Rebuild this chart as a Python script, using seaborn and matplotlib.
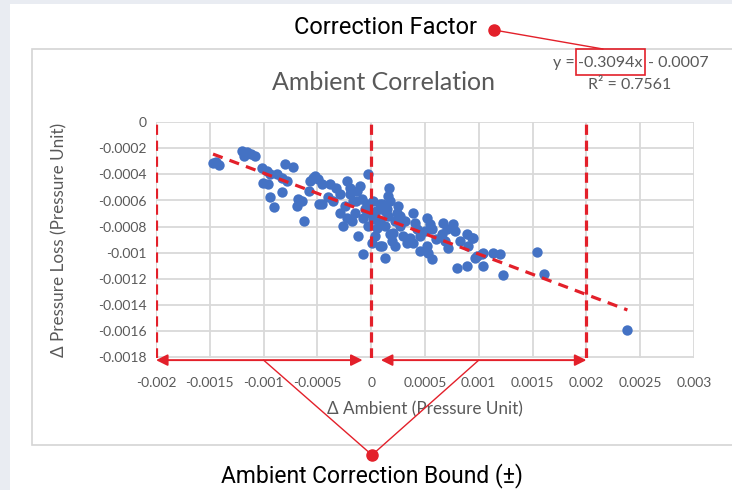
import numpy as np
import pandas as pd
import matplotlib
matplotlib.use("Agg")
import matplotlib.pyplot as plt
import seaborn as sns
from matplotlib.patches import Rectangle, ConnectionPatch

# ---------------- data ----------------
delta_ambient = [
    -0.00147, -0.001414, -0.001442, -0.0012, -0.001181, -0.001116, -0.001153, -0.001014, -0.000967, -0.00094,
    -0.000874, -0.000828, -0.001005, -0.000958, -0.0008, -0.000726, -0.000828, -0.00094, -0.000902, -0.000679,
    -0.000688, -0.000623, -0.000567, -0.000521, -0.000484, -0.00054, -0.000493, -0.000456, -0.000381, -0.000642,
    -0.000456, -0.000223, -0.000195, -0.000102, -0.000288, -0.000195, -0.000167, -0.000028, 0.000167, 0.000158,
    -0.000353, -0.000288, -0.000223, -0.000149, -0.000084, -0.000037, 0.000019, 0.000084, 0.000149, -0.000074,
    0.000019, 0.000084, 0.000056, -0.00026, -0.000121, 0.000177, 0.000195, 0.000009, 0.000084, -0.000074,
    0.00013, 0.000102, 0.00013, 0.000158, 0.000242, 0.00027, 0.000223, 0.00027, 0.000205, 0.000298,
    0.000335, 0.000391, 0.000409, 0.000428, 0.000363, 0.000391, 0.000102, 0.000521, 0.000549, 0.000567,
    0.000521, 0.00053, 0.000567, 0.00067, 0.000707, 0.00066, 0.000688, 0.000716, 0.000763, 0.000781,
    0.000893, 0.000949, 0.000902, 0.000986, 0.001042, 0.0008, 0.000893, 0.001042, 0.00094, 0.000967,
    0.001033, 0.001135, 0.0012, 0.001228, 0.001544, 0.001609, 0.002381, -0.000326, -0.000242, -0.00013,
    -0.000056, -0.000009, 0.000047, -0.000177, -0.000028, 0.00013, 0.000251, 0.000316, 0.000456, 0.000605,
    0.000828, 0.000502, 0.000177, -0.00014, 0.000037, 0.000223, 0.000456, -0.0004, -0.000577, -0.000781,
    -0.001079,
]
delta_pressure_loss = [
    -0.000313, -0.000328, -0.000305, -0.000221, -0.00026, -0.000244, -0.000229, -0.000351, -0.000374, -0.000397,
    -0.000397, -0.000427, -0.000466, -0.000473, -0.000321, -0.000344, -0.000534, -0.000573, -0.000649, -0.000588,
    -0.000641, -0.000756, -0.00045, -0.000412, -0.000626, -0.000427, -0.000435, -0.000473, -0.000473, -0.000603,
    -0.000626, -0.00045, -0.000504, -0.000489, -0.00055, -0.00055, -0.000603, -0.000397, -0.000504, -0.000565,
    -0.000603, -0.000695, -0.000733, -0.000695, -0.000588, -0.000626, -0.000603, -0.000626, -0.000664, -0.000733,
    -0.00074, -0.000756, -0.000809, -0.000794, -0.00087, -0.000855, -0.000908, -0.000924, -0.000947, -0.001008,
    -0.001038, -0.000626, -0.000679, -0.000718, -0.000695, -0.000718, -0.000756, -0.000794, -0.000847, -0.00087,
    -0.000924, -0.000695, -0.000771, -0.000817, -0.000886, -0.000924, -0.000947, -0.000733, -0.000779, -0.000817,
    -0.000947, -0.001, -0.001046, -0.000771, -0.000817, -0.000855, -0.000908, -0.000962, -0.000779, -0.000832,
    -0.000855, -0.000886, -0.000947, -0.001023, -0.001, -0.001115, -0.001099, -0.001099, -0.000886, -0.001038,
    -0.001008, -0.001, -0.001008, -0.001168, -0.000992, -0.00116, -0.001588, -0.000504, -0.000641, -0.000527,
    -0.000664, -0.000695, -0.000679, -0.000756, -0.000794, -0.000794, -0.000641, -0.000756, -0.00087, -0.000893,
    -0.000908, -0.000832, -0.000603, -0.000603, -0.00087, -0.000947, -0.000985, -0.000573, -0.000527, -0.00045,
    -0.00026,
]
slope = -0.3094
intercept = -0.0007
r_squared = 0.7561
bound = 0.002

x_ticks = [-0.002, -0.0015, -0.001, -0.0005, 0, 0.0005, 0.001, 0.0015, 0.002, 0.0025, 0.003]
x_tick_labels = ["-0.002", "-0.0015", "-0.001", "-0.0005", "0", "0.0005", "0.001",
                 "0.0015", "0.002", "0.0025", "0.003"]
y_ticks = [0, -0.0002, -0.0004, -0.0006, -0.0008, -0.001, -0.0012, -0.0014, -0.0016, -0.0018]
y_tick_labels = ["0", "-0.0002", "-0.0004", "-0.0006", "-0.0008", "-0.001", "-0.0012",
                 "-0.0014", "-0.0016", "-0.0018"]

title = "Ambient Correlation"
x_label = "Δ Ambient (Pressure Unit)"
y_label = "Δ Pressure Loss (Pressure Unit)"
top_note = "Correction Factor"
bottom_note = "Ambient Correction Bound (±)"

df = pd.DataFrame({"ambient": delta_ambient, "loss": delta_pressure_loss})

# ---------------- style ----------------
sns.set_theme(style="white")
plt.rcParams["font.family"] = ["Lato", "DejaVu Sans"]

RED = "#e3202a"
BLUE = "#4472c4"
GRAY_TXT = "#595959"
W, H = 732, 490

fig = plt.figure(figsize=(W / 100, H / 100), dpi=100)
fig.patch.set_facecolor("#e9ecf2")
fig.patches.append(Rectangle((10 / W, 0), 1, 1 - 4 / H, transform=fig.transFigure,
                             facecolor="white", edgecolor="none", zorder=-10))
fig.patches.append(Rectangle((32 / W, 1 - 445 / H), (760 - 32) / W, (445 - 49) / H,
                             transform=fig.transFigure, facecolor="white",
                             edgecolor="#d4d4d4", lw=1.2, zorder=-9))

ax = fig.add_axes([156 / W, 1 - 357.5 / H, (694 - 156) / W, (357.5 - 122) / H], zorder=2)
ax.set_facecolor("none")

sns.scatterplot(data=df, x="ambient", y="loss", ax=ax, color=BLUE, s=56,
                linewidth=0, zorder=3, legend=False)

xs = np.array([df["ambient"].min(), df["ambient"].max()])
ax.plot(xs, slope * xs + intercept, color=RED, lw=2.3, ls=(0, (3.2, 2.3)), zorder=4)

for xv in (-bound, 0, bound):
    ax.axvline(xv, color=RED, lw=2.3, ls=(0, (3.2, 1.8)), zorder=4)

ax.set_xlim(x_ticks[0], x_ticks[-1])
ax.set_ylim(y_ticks[-1], y_ticks[0])
ax.set_xticks(x_ticks)
ax.set_xticklabels(x_tick_labels)
ax.set_yticks(y_ticks)
ax.set_yticklabels(y_tick_labels)
ax.grid(True, color="#d9d9d9", lw=1.3, zorder=0)
ax.set_axisbelow(True)
for s in ax.spines.values():
    s.set_visible(False)
ax.tick_params(axis="x", length=0, pad=14, labelsize=10, labelcolor=GRAY_TXT)
ax.tick_params(axis="y", length=0, pad=7, labelsize=10, labelcolor=GRAY_TXT)
ax.set_xlabel(x_label, fontsize=12.3, color=GRAY_TXT, labelpad=9)
ax.set_ylabel(y_label, fontsize=12.3, color=GRAY_TXT, labelpad=10)
ax.yaxis.set_label_coords(-(156 - 67) / (694 - 156), 0.5)

# bound arrows along the bottom
arrow_y = y_ticks[-1] - 0.00002
for a, b in ((-bound, -0.00008), (0.00009, bound)):
    ax.annotate("", xy=(a, arrow_y), xytext=(b, arrow_y),
                arrowprops=dict(arrowstyle="<|-|>", color=RED, lw=1.4,
                                mutation_scale=17, shrinkA=0, shrinkB=0),
                annotation_clip=False, zorder=6)

# overlay in pixel coordinates for annotations
ov = fig.add_axes([0, 0, 1, 1], zorder=5)
ov.set_xlim(0, W)
ov.set_ylim(H, 0)
ov.axis("off")
ov.patch.set_alpha(0)

ov.text(384, 82, title, ha="center", va="center", fontsize=18, color=GRAY_TXT)
ov.text(575, 63, "y =", ha="right", va="center", fontsize=11.5, color=GRAY_TXT)
ov.text(610.5, 63, f"{slope}x", ha="center", va="center", fontsize=11.5, color=GRAY_TXT)
ov.text(648, 63, f"- {abs(intercept)}", ha="left", va="center", fontsize=11.5, color=GRAY_TXT)
ov.text(630, 85, f"R² = {r_squared}", ha="center", va="center", fontsize=11.5, color=GRAY_TXT)

ov.add_patch(Rectangle((576, 49), 69, 26, fill=False, edgecolor=RED, lw=1.2))
ov.plot([494, 603], [30, 49], color=RED, lw=1.0)
ov.plot([494], [30], marker="o", ms=8, color=RED, mec=RED)
ov.text(385, 27, top_note, ha="center", va="center", fontsize=17, color="black",
        family=["Roboto", "DejaVu Sans"])

dot = (372, 455)
for xa in (-bound / 2, bound / 2):
    con = ConnectionPatch(xyA=(xa, arrow_y), coordsA=ax.transData,
                          xyB=dot, coordsB=ov.transData, color=RED, lw=1.0, zorder=6)
    fig.add_artist(con)
ov.plot([dot[0]], [dot[1]], marker="o", ms=8, color=RED, mec=RED, zorder=7)
ov.text(372, 476, bottom_note, ha="center", va="center", fontsize=16.5, color="black",
        family=["Roboto", "DejaVu Sans"])

fig.savefig("out.png", dpi=100)
